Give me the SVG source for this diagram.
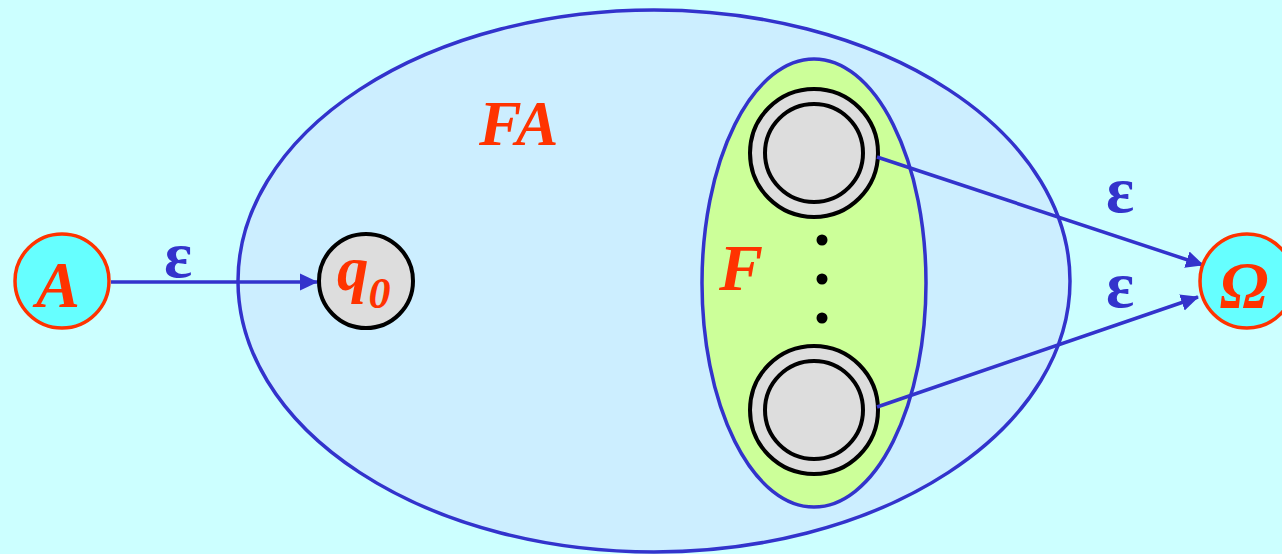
<svg xmlns="http://www.w3.org/2000/svg" width="1282" height="554" viewBox="0 0 1282 554">
<style>
.lbl{font-family:"Liberation Serif",serif;font-weight:bold;font-style:italic;fill:#ff3300}
.eps{font-family:"Liberation Serif",serif;font-weight:bold;fill:#3333cc;font-size:66px}
.st{fill:#dddddd;stroke:#000;stroke-width:4}
.ext{fill:#66ffff;stroke:#ff3300;stroke-width:3.5}
.edge{stroke:#3333cc;stroke-width:3.5;fill:none;marker-end:url(#ah)}
</style>
<defs>
<marker id="ah" markerWidth="18" markerHeight="18" refX="17" refY="9" orient="auto" markerUnits="userSpaceOnUse">
<path d="M0,0.5 L18,9 L0,17.5 Z" fill="#3333cc"/>
</marker>
</defs>
<rect width="1282" height="554" fill="#ccffff"/>
<g id="FA">
<ellipse cx="654" cy="281" rx="416" ry="271" fill="#cceeff" stroke="#3333cc" stroke-width="3.5"/>
<text class="lbl" x="479" y="145" font-size="64">FA</text>
</g>
<g id="F">
<ellipse cx="814" cy="283" rx="112" ry="224" fill="#ccff99" stroke="#3333cc" stroke-width="3.5"/>
<text class="lbl" x="719" y="290" font-size="66">F</text>
<circle cx="822" cy="240" r="5.5" fill="#000"/>
<circle cx="822" cy="279" r="5.5" fill="#000"/>
<circle cx="822" cy="318" r="5.5" fill="#000"/>
</g>
<g id="f1">
<circle class="st" cx="814" cy="153" r="64"/>
<circle class="st" cx="814" cy="153" r="49"/>
</g>
<g id="f2">
<circle class="st" cx="814" cy="410" r="64"/>
<circle class="st" cx="814" cy="410" r="49"/>
</g>
<g id="connectors">
<line class="edge" x1="111" y1="282" x2="317" y2="282"/>
<line class="edge" x1="877" y1="157" x2="1203" y2="265"/>
<line class="edge" x1="877" y1="407" x2="1198" y2="297"/>
<text class="eps" x="164" y="277">ε</text>
<text class="eps" x="1106" y="212">ε</text>
<text class="eps" x="1106" y="307">ε</text>
</g>
<g id="A">
<circle class="ext" cx="62" cy="281" r="47"/>
<text class="lbl" x="58" y="307" font-size="66" text-anchor="middle">A</text>
</g>
<g id="q0">
<circle class="st" cx="366" cy="281" r="47"/>
<text class="lbl" x="337" y="290" font-size="63">q<tspan font-size="44" dy="18">0</tspan></text>
</g>
<g id="Omega">
<circle class="ext" cx="1247" cy="281" r="47"/>
<text class="lbl" x="1244" y="307" font-size="65" text-anchor="middle">Ω</text>
</g>
</svg>
